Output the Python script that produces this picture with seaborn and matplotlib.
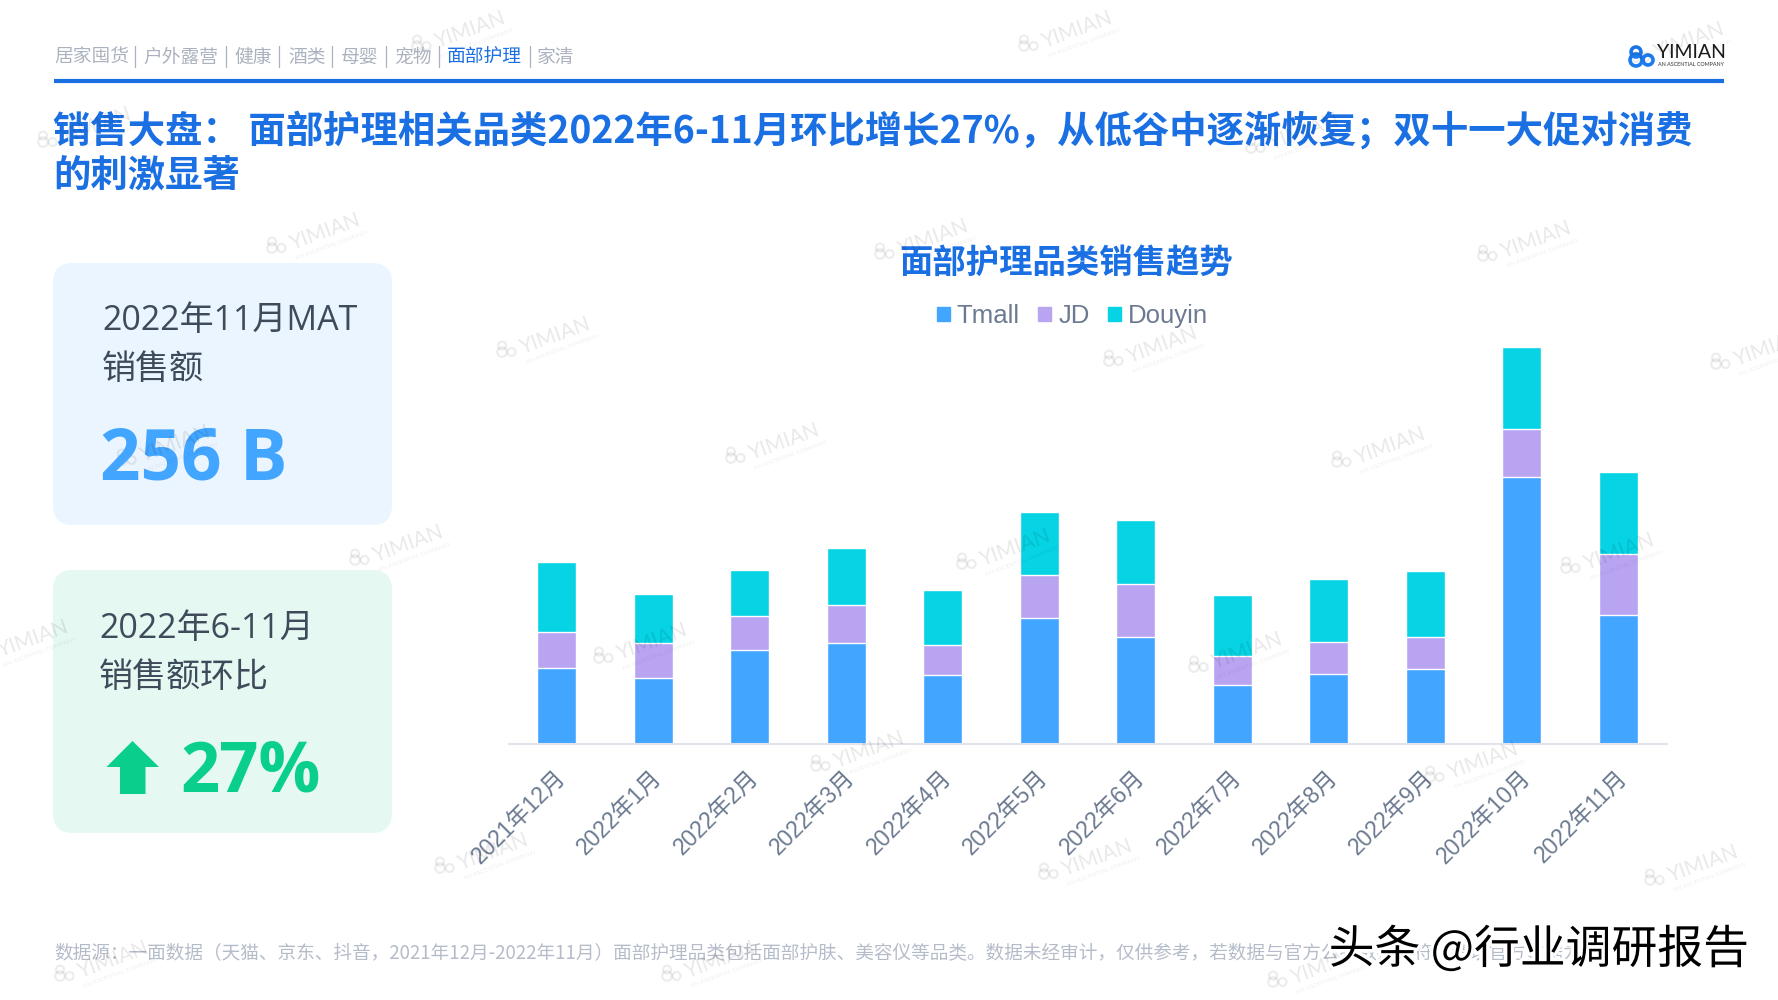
# ============================
# plot.py
# ============================
# Facial care sales trend slide: stacked monthly bars plus KPI cards.

import numpy as np
import pandas as pd
import matplotlib
matplotlib.use("Agg")
import matplotlib.pyplot as plt
import matplotlib.patheffects as pe
from matplotlib.patches import FancyBboxPatch, Polygon, Circle, Patch
from matplotlib.transforms import ScaledTranslation
import seaborn as sns

# --- Data ---
months = ["2021年12月", "2022年1月", "2022年2月", "2022年3月", "2022年4月", "2022年5月",
          "2022年6月", "2022年7月", "2022年8月", "2022年9月", "2022年10月", "2022年11月"]
tmall = [7.84, 6.83, 9.68, 10.42, 7.10, 13.05, 11.13, 6.13, 7.23, 7.75, 27.73, 13.36]
jd = [3.81, 3.59, 3.55, 4.03, 3.11, 4.51, 5.43, 3.02, 3.37, 3.37, 4.99, 6.39]
douyin = [7.27, 5.12, 4.86, 5.87, 5.78, 6.53, 6.70, 6.26, 6.53, 6.83, 8.50, 8.50]

nav_labels = ["居家囤货", "户外露营", "健康", "酒类", "母婴", "宠物", "面部护理", "家清"]
nav_x = [54, 143, 234, 288, 341, 394, 447, 537]
nav_sep_x = [135, 226, 279, 332, 386, 439, 530]

title_lines = ["销售大盘： 面部护理相关品类2022年6-11月环比增长27%，从低谷中逐渐恢复；双十一大促对消费",
               "的刺激显著"]
source_note = ("数据源：一面数据（天猫、京东、抖音，2021年12月-2022年11月）面部护理品类包括面部护肤、"
               "美容仪等品类。数据未经审计，仅供参考，若数据与官方公布数据不符，请以官方数据为准。")

# watermark centres, in pixels of the 1778x1000 slide
mark_x = [459, 1066, 1678, 85, 1293, 314, 922, 1525, 544, 1151, 1758, 164, 773, 1379,
          397, 1004, 1608, 22, 641, 1236, 858, 1472, 482, 1086, 1692, 102, 709, 1315]
mark_y = [34, 34, 45, 130, 136, 236, 242, 244, 340, 349, 352, 448, 446, 450,
          548, 552, 556, 643, 646, 655, 754, 765, 856, 862, 868, 964, 964, 970]

BLUE = "#1A6FE3"
TMALL = "#42A5FF"
JD = "#B9A4F2"
DOUYIN = "#06D3E3"
GREEN = "#0ACF8C"
GREY_TEXT = "#6B7A90"
DARK_TEXT = "#3F4A5A"
CJK = "Noto Sans CJK SC"
LATIN_CJK = ["Liberation Sans", "Noto Sans CJK SC"]
CARD_FONT = ["Open Sans", "Noto Sans CJK SC"]

sns.set_theme(style="white")
plt.rcParams["font.family"] = [CJK, "DejaVu Sans"]

fig = plt.figure(figsize=(17.78, 10), dpi=100, facecolor="white")

# --- Stacked bars, drawn tallest layer first ---
df = pd.DataFrame({"month": months, "Tmall": tmall, "JD": jd, "Douyin": douyin})
df["jd_top"] = df["Tmall"] + df["JD"]
df["douyin_top"] = df["jd_top"] + df["Douyin"]

ax = fig.add_axes([508.5 / 1778, 1 - 743.5 / 1000, 1158 / 1778, 404 / 1000])
sns.barplot(data=df, x="month", y="douyin_top", color=DOUYIN, saturation=1, width=0.4, ax=ax)
sns.barplot(data=df, x="month", y="jd_top", color=JD, saturation=1, width=0.4, ax=ax)
sns.barplot(data=df, x="month", y="Tmall", color=TMALL, saturation=1, width=0.4, ax=ax)

ax.set_xlim(-0.5, 11.5)
ax.set_ylim(0, 42.04)
ax.set_xlabel("")
ax.set_ylabel("")
ax.set_yticks([])
sns.despine(ax=ax, left=True)
ax.spines["bottom"].set_color("#E1E5EB")
ax.spines["bottom"].set_linewidth(1.5)
ax.patch.set_alpha(0)
ax.tick_params(axis="x", length=0, pad=16)
label_shift = ScaledTranslation(-3 / 100, 0, fig.dpi_scale_trans)
for lab in ax.get_xticklabels():
    lab.set_rotation(45)
    lab.set_ha("right")
    lab.set_rotation_mode("anchor")
    lab.set_fontsize(16.5)
    lab.set_color(GREY_TEXT)
    lab.set_family(LATIN_CJK)
    lab.set_transform(lab.get_transform() + label_shift)

handles = [Patch(color=TMALL, label="Tmall"), Patch(color=JD, label="JD"), Patch(color=DOUYIN, label="Douyin")]
fig.legend(handles=handles, ncol=3, loc="center", bbox_to_anchor=(1072.5 / 1778, 1 - 316 / 1000),
           frameon=False, handlelength=0.5, handleheight=0.5, handletextpad=0.27, columnspacing=0.72,
           prop={"family": LATIN_CJK, "size": 18.5}, labelcolor=GREY_TEXT)

# --- Slide furniture, in pixel coordinates ---
bg = fig.add_axes([0, 0, 1, 1], zorder=5)
bg.set_xlim(0, 1778)
bg.set_ylim(1000, 0)
bg.axis("off")
bg.patch.set_alpha(0)

# nav bar
for name, x in zip(nav_labels, nav_x):
    col = BLUE if name == "面部护理" else "#ABB2BF"
    bg.text(x, 57, name, fontsize=13.5, color=col, va="center", ha="left")
for x in nav_sep_x:
    bg.text(x, 57, "|", fontsize=13.5, color="#ABB2BF", va="center", ha="center")
bg.plot([54, 1724], [80.5, 80.5], color=BLUE, lw=3, solid_capstyle="butt")


def rings(cx, cy, scale, color, lw, alpha=1.0):
    # three overlapping loops, the YIMIAN mark
    for dx, dy, r in [(0, -8, 5), (0, 0, 6), (12, 0, 5)]:
        bg.add_patch(Circle((cx + dx * scale, cy + dy * scale), r * scale, fill=False, ec=color, lw=lw, alpha=alpha))


# top-right logo
rings(1636, 60, 1.0, "#1C7BEF", 2.6)
bg.text(1657, 52, "YIMIAN", fontsize=14, color="#1A1A1A", family="Lato", va="center", ha="left")
bg.text(1658, 64, "AN ASCENTIAL COMPANY", fontsize=3.9, color="#333333", family="Lato", va="center", ha="left")

# headline
bg.text(53, 131, title_lines[0], fontsize=26.9, fontweight="bold", color=BLUE, va="center", ha="left")
bg.text(53, 176, title_lines[1], fontsize=26.9, fontweight="bold", color=BLUE, va="center", ha="left")

# KPI cards
bg.add_patch(FancyBboxPatch((73, 283), 299, 222, boxstyle="round,pad=20,rounding_size=20", fc="#EAF5FF", ec="none"))
bg.add_patch(FancyBboxPatch((73, 590), 299, 223, boxstyle="round,pad=20,rounding_size=20", fc="#E5F8F2", ec="none"))
bg.text(102, 321, "2022年11月MAT", fontsize=24.5, color=DARK_TEXT, family=CARD_FONT, va="center", ha="left")
bg.text(102, 370, "销售额", fontsize=24.5, color=DARK_TEXT, va="center", ha="left")
bg.text(100, 460, "256 B", fontsize=51, fontweight="bold", color=TMALL, family=CARD_FONT, va="center", ha="left")
bg.text(99, 629, "2022年6-11月", fontsize=24.5, color=DARK_TEXT, family=CARD_FONT, va="center", ha="left")
bg.text(99, 677, "销售额环比", fontsize=24.5, color=DARK_TEXT, va="center", ha="left")
bg.text(180, 773, "27%", fontsize=49.5, fontweight="bold", color=GREEN, family=CARD_FONT, va="center", ha="left")
bg.add_patch(Polygon([(132.5, 741), (159, 767), (145.5, 767), (145.5, 794), (120, 794), (120, 767), (106.5, 767)],
                     closed=True, fc=GREEN, ec="none"))

# chart title
bg.text(1066, 263, "面部护理品类销售趋势", fontsize=24, fontweight="bold", color=BLUE, va="center", ha="center")

# source note
bg.text(54, 953, source_note, fontsize=13.43, color="#B5BCC9", va="center", ha="left")

# faint repeating watermark on top of everything
for x, y in zip(mark_x, mark_y):
    bg.text(x + 12, y - 4, "YIMIAN", fontsize=15, color="black", alpha=0.09, rotation=20,
            family="Lato", va="center", ha="center", rotation_mode="anchor")
    bg.text(x + 18, y + 9, "AN ASCENTIAL COMPANY", fontsize=4.5, color="black", alpha=0.07, rotation=20,
            family="Lato", va="center", ha="center", rotation_mode="anchor")
    rings(x - 42, y + 12, 0.8, "black", 1.6, alpha=0.07)

# site stamp in the corner
bg.text(1539, 950, "头条 @行业调研报告", fontsize=33, color="black", va="center", ha="center",
        path_effects=[pe.withStroke(linewidth=5, foreground="white")], zorder=10)

fig.savefig("out.png", dpi=100, facecolor="white")
print("saved out.png")
